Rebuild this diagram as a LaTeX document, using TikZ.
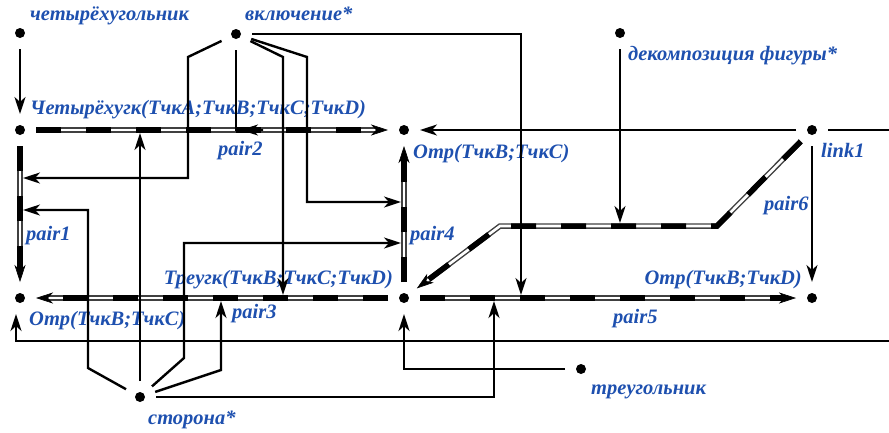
\documentclass[tikz,border=0pt]{standalone}
\usepackage{fontspec}
\setmainfont{Liberation Serif}
\usetikzlibrary{arrows.meta}
\definecolor{lblblue}{RGB}{30,80,175}

\begin{document}
\begin{tikzpicture}[x=1pt, y=-1pt,
    dot/.style={circle, fill=black, inner sep=0pt, minimum size=10pt, outer sep=11pt},
    lbl/.style={font=\fontsize{20.5}{24}\selectfont\bfseries\itshape, text=lblblue, inner sep=0pt, anchor=base west},
    arr/.style={line width=2.4pt, -{Stealth[length=17pt, width=11pt, inset=5pt]}},
    pairarc/.style={draw=white, line width=2.6pt,
        -{Stealth[length=17pt, width=11pt, inset=5pt, color=black, line width=0.6pt]},
        preaction={draw=black!75, line width=5.5pt, arrows=-, shorten >=12pt},
        postaction={draw=black, line width=5.5pt, arrows=-, shorten >=12pt, dash pattern=on 25pt off 25pt}}]
    \useasboundingbox (0,0) rectangle (889,432);

    % elements
    \node[dot] (quad) at (20,33) {};
    \node[lbl] (quadlbl) at (30,20) {четырёхугольник};
    \node[dot] (incl) at (236,34) {};
    \node[lbl] (incllbl) at (245,20) {включение*};
    \node[dot] (decomp) at (620,33) {};
    \node[lbl] (decomplbl) at (628,60) {декомпозиция фигуры*};
    \node[dot] (quadABCD) at (20,130) {};
    \node[lbl] (quadABCDlbl) at (30,114) {Четырёхугк(ТчкA;ТчкB;ТчкC;ТчкD)};
    \node[dot] (segBC) at (404,130) {};
    \node[lbl] (segBClbl) at (413,158) {Отр(ТчкB;ТчкC)};
    \node[dot] (link1) at (812,130) {};
    \node[lbl] (link1lbl) at (821,157) {link1};
    \node[dot] (segBClow) at (20,298) {};
    \node[lbl] (segBClowlbl) at (29,325) {Отр(ТчкB;ТчкC)};
    \node[dot] (tri) at (404,298) {};
    \node[lbl, anchor=base east] (trilbl) at (393,284) {Треугк(ТчкB;ТчкC;ТчкD)};
    \node[dot] (segBD) at (812,298) {};
    \node[lbl, anchor=base east] (segBDlbl) at (802,284) {Отр(ТчкB;ТчкD)};
    \node[dot] (side) at (140,397) {};
    \node[lbl] (sidelbl) at (148,424) {сторона*};
    \node[dot] (triangle) at (581,369) {};
    \node[lbl] (trianglelbl) at (591,394) {треугольник};

    % pair labels
    \node[lbl] (pair1lbl) at (26,240) {pair1};
    \node[lbl] (pair2lbl) at (218,155) {pair2};
    \node[lbl] (pair3lbl) at (232,318) {pair3};
    \node[lbl] (pair4lbl) at (410,240) {pair4};
    \node[lbl] (pair5lbl) at (613,323) {pair5};
    \node[lbl] (pair6lbl) at (764,210) {pair6};

    % points on the pairs
    \coordinate (p1a) at (23,178);
    \coordinate (p1b) at (23,210);
    \coordinate (p2x) at (263,130);
    \coordinate (p2a) at (241,130);
    \coordinate (p2b) at (140,133);
    \coordinate (p3a) at (283,295);
    \coordinate (p3b) at (221,301);
    \coordinate (p4a) at (401,202);
    \coordinate (p4b) at (401,243);
    \coordinate (p5a) at (521,295);
    \coordinate (p5b) at (494,301);
    \coordinate (p6a) at (620,223);
    \coordinate (offR) at (889,130);
    \coordinate (offB) at (889,341);

    % pairs
    \draw[pairarc] (quadABCD) -- (segBC);
    \draw[pairarc] (quadABCD) -- (segBClow);
    \draw[pairarc] (tri) -- (segBC);
    \draw[pairarc] (tri) -- (segBClow);
    \draw[pairarc] (tri) -- (segBD);
    \draw[pairarc] (link1) -- (717,226) -- (500,226) -- (tri);

    % arcs
    \draw[arr] (quad) -- (quadABCD);
    \draw[arr] (link1) -- (segBC);
    \draw[arr] (link1) -- (segBD);
    \draw[line width=2.4pt] (link1) -- (offR);
    \draw[arr] (offB) -| ([xshift=-4pt]segBClow.south);
    \draw[arr] (decomp) -- (p6a);
    \draw[arr] (triangle) -| (tri);

    \draw[arr] (incl) |- (p2x) -- (p2a);
    \draw[arr] (incl) -- (188,57) |- (p1a);
    \draw[arr] (incl) -- (283,57) -- (p3a);
    \draw[arr] (incl) -- (307,57) |- (p4a);
    \draw[arr] (incl) -| (p5a);

    \draw[arr] (side) -- (88,368) |- (p1b);
    \draw[arr] (side) -- (p2b);
    \draw[arr] (side) -- (221,370) -- (p3b);
    \draw[arr] (side) -- (184,358) |- (p4b);
    \draw[arr] (side) -| (p5b);
\end{tikzpicture}
\end{document}
